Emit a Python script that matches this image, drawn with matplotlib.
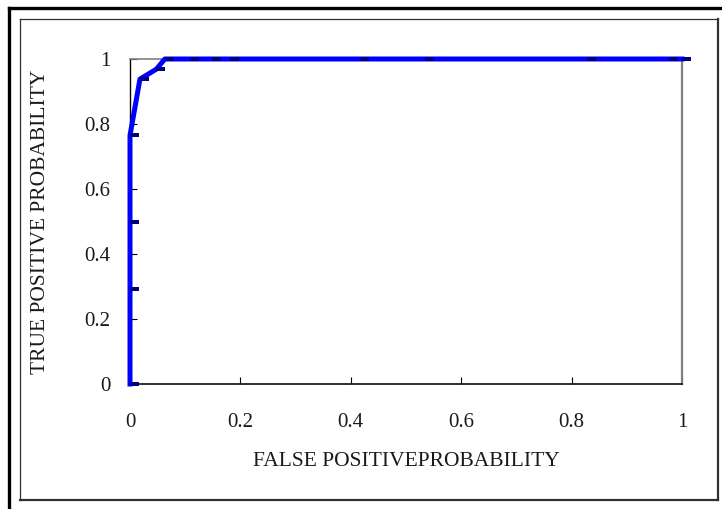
import matplotlib
matplotlib.use("Agg")
import matplotlib.pyplot as plt
from matplotlib.lines import Line2D

# ROC points
fpr = [0.0, 0.0, 0.0, 0.0, 0.018, 0.048, 0.063, 0.109, 0.148, 0.181, 0.417, 0.534, 0.828, 0.976, 1.0]
tpr = [0.0, 0.293, 0.498, 0.765, 0.938, 0.969, 1.0, 1.0, 1.0, 1.0, 1.0, 1.0, 1.0, 1.0, 1.0]

tick_vals = [0, 0.2, 0.4, 0.6, 0.8, 1]
tick_labels = ["0", "0.2", "0.4", "0.6", "0.8", "1"]

plt.rcParams['font.family'] = ['Liberation Serif', 'DejaVu Serif']

W, H = 722, 509
fig = plt.figure(figsize=(W / 100, H / 100), dpi=100)

# pixel helper for the frame lines (top-left origin)
def px(x, y):
    return x / W, 1 - y / H

# outer thick frame (only top and left visible)
fig.add_artist(Line2D([px(9, 0)[0], px(9, 0)[0]], [px(0, 8)[1], 0], color='black', lw=2.4, transform=fig.transFigure))
fig.add_artist(Line2D([px(9, 0)[0], 1], [px(0, 8)[1], px(0, 8)[1]], color='black', lw=2.4, transform=fig.transFigure))

# inner chart-area box
x0, y0 = px(20, 19)
x1, y1 = px(718, 500)
fig.add_artist(Line2D([x0, x1], [y0, y0], color='#303030', lw=0.9, transform=fig.transFigure))
fig.add_artist(Line2D([x0, x0], [y0, y1], color='#303030', lw=0.9, transform=fig.transFigure))
fig.add_artist(Line2D([x1, x1], [y0, y1], color='#303030', lw=1.6, transform=fig.transFigure))
fig.add_artist(Line2D([x0, x1], [y1, y1], color='#303030', lw=1.6, transform=fig.transFigure))

l, t = px(130, 59)
r, b = px(682, 384)
ax = fig.add_axes([l, b, r - l, t - b])

# dash marker sitting to the right of each point
dash = [(0, -0.24), (1, -0.24), (1, 0.24), (0, 0.24), (0, -0.24)]
ax.plot(fpr, tpr, color='#0000FF', lw=3.6, zorder=5, clip_on=False,
        marker=dash, markersize=13, markerfacecolor='#000080', markeredgecolor='#000080', markeredgewidth=0)

ax.set_xlim(0, 1)
ax.set_ylim(0, 1)
ax.set_xticks(tick_vals)
ax.set_xticklabels(tick_labels)
ax.set_yticks(tick_vals)
ax.set_yticklabels(tick_labels)

ax.spines['left'].set_color('black')
ax.spines['bottom'].set_color('#202020')
ax.spines['left'].set_linewidth(1.0)
ax.spines['bottom'].set_linewidth(1.3)
ax.spines['top'].set_color('#808080')
ax.spines['right'].set_color('#808080')
ax.spines['top'].set_linewidth(1.2)
ax.spines['right'].set_linewidth(1.6)

ax.tick_params(axis='x', direction='in', length=5, width=0.8, pad=21, labelsize=15, color='black', labelcolor='#1a1a1a')
ax.tick_params(axis='y', direction='in', length=5, width=0.8, pad=14, labelsize=15, color='black', labelcolor='#1a1a1a')

ax.set_xlabel("FALSE POSITIVEPROBABILITY", fontsize=15.5, labelpad=14, color='#1a1a1a')
ax.set_ylabel("TRUE POSITIVE PROBABILITY", fontsize=15.5, labelpad=25, color='#1a1a1a')

fig.savefig("out.png", dpi=100)
